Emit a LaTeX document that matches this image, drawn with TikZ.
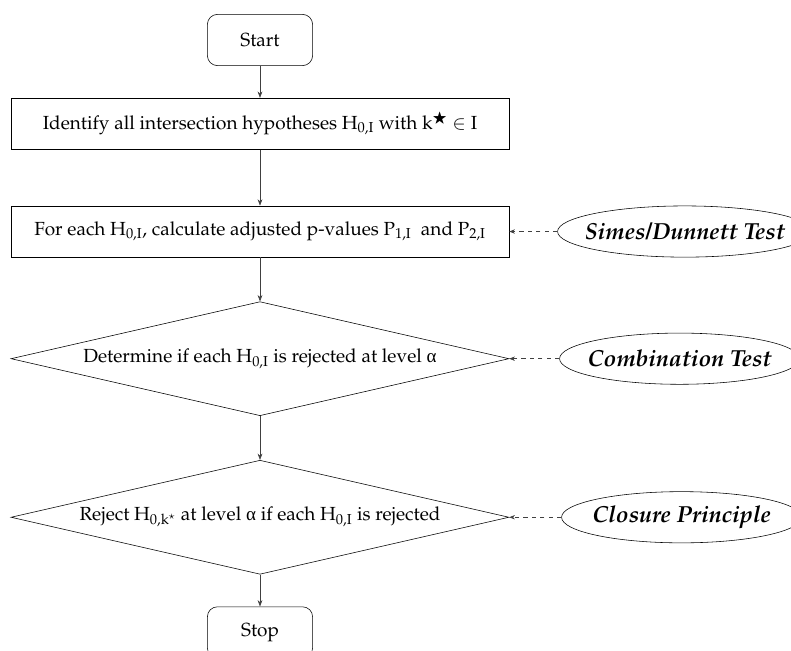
\documentclass[tikz,border=0pt]{standalone}
\usepackage{amssymb}
\usepackage{fontspec}
\newfontfamily\grk{Liberation Serif}
\usepackage[T1]{fontenc}
\usepackage{mathpazo}
\usepackage{tikz}
\usetikzlibrary{arrows.meta, positioning, shapes.geometric}
\usepackage{xcolor}

\newcommand{\alev}{{\grk α}}

\begin{document}
\begin{tikzpicture}[
    node distance=1.1cm,
    font=\fontsize{13.5}{16}\selectfont,
    terminal/.style={draw, rectangle, rounded corners=2.5mm, minimum width=2.63cm, minimum height=1.28cm, align=center},
    process/.style={draw, rectangle, minimum width=12.45cm, minimum height=1.28cm, align=center},
    decision/.style={draw, diamond, aspect=4.5, minimum width=12.45cm, minimum height=2.85cm, align=center, inner sep=0pt},
    method/.style={draw, ellipse, minimum width=6cm, minimum height=1.28cm, inner xsep=-0.25cm, font=\fontsize{16.5}{19}\selectfont\bfseries\itshape},
    arrow/.style={-{Stealth[length=1.6mm, width=1.2mm]}, draw=black!75},
    feed/.style={-{Stealth[length=1.4mm, width=1.1mm]}, dashed, draw=black!75}
]
\useasboundingbox (0,0) rectangle (19.775,-16.25);

% Nodes
\node[terminal] (start) at (6.5,-1.0) {Start};
\node[process, below=0.8cm of start] (inter) {Identify all intersection hypotheses H\textsubscript{0,I} with k\textsuperscript{$\bigstar$} $\in$ I};
\node[process, below=1.4cm of inter] (pval) {For each H\textsubscript{0,I}, calculate adjusted p-values P\textsubscript{1,I} \ and P\textsubscript{2,I}};
\node[decision, below=1.1cm of pval] (level) {Determine if each H\textsubscript{0,I} is rejected at level \alev};
\node[decision, below=1.1cm of level] (reject) {Reject H\textsubscript{0,k\textsuperscript{$\star$}} at level \alev\ if each H\textsubscript{0,I} is rejected};
\node[terminal, below=0.8cm of reject] (stop) {Stop};

\node[method, right=1.2cm of pval] (simes) {Simes/Dunnett Test};
\node[method, right=1.25cm of level] (comb) {Combination Test};
\node[method, right=1.3cm of reject] (closure) {Closure Principle};

% Arrows
\draw[arrow] (start) -- (inter);
\draw[arrow] (inter) -- (pval);
\draw[arrow] (pval) -- (level);
\draw[arrow] (level) -- (reject);
\draw[arrow] (reject) -- (stop);
\draw[feed] (simes) -- (pval);
\draw[feed] (comb) -- (level);
\draw[feed] (closure) -- (reject);

\end{tikzpicture}
\end{document}
